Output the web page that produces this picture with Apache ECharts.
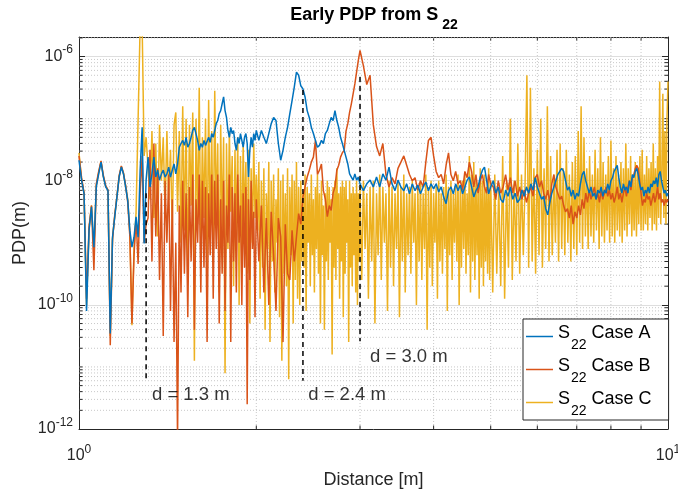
<!DOCTYPE html>
<html>
<head>
<meta charset="utf-8">
<title>Early PDP from S22</title>
<script src="https://cdn.jsdelivr.net/npm/echarts@6.0.0/dist/echarts.min.js"></script>
<style>
  html, body { margin: 0; padding: 0; background: #ffffff; }
  #chart { width: 678px; height: 492px; }
</style>
</head>
<body>
<div id="chart"></div>
<script>
// Distance samples [m] used by Case A and Case B
const distance = [
  1.00,1.01,1.02,1.03,1.04,1.05,1.06,1.07,1.08,1.09,
  1.10,1.11,1.12,1.13,1.14,1.15,1.16,1.17,1.18,1.19,
  1.20,1.21,1.22,1.23,1.24,1.25,1.26,1.27,1.28,1.29,
  1.30,1.31,1.32,1.33,1.34,1.35,1.36,1.37,1.38,1.39,
  1.40,1.41,1.42,1.43,1.44,1.45,1.46,1.47,1.48,1.49,
  1.50,1.51,1.52,1.53,1.54,1.55,1.56,1.57,1.58,1.59,
  1.60,1.61,1.62,1.63,1.64,1.65,1.66,1.67,1.68,1.69,
  1.70,1.71,1.72,1.73,1.74,1.75,1.76,1.77,1.78,1.79,
  1.80,1.81,1.82,1.83,1.84,1.85,1.86,1.87,1.88,1.89,
  1.90,1.91,1.92,1.93,1.94,1.95,1.96,1.97,1.98,1.99,
  2.00,2.02,2.04,2.06,2.08,2.10,2.12,2.14,2.16,2.18,
  2.20,2.22,2.24,2.26,2.28,2.30,2.32,2.34,2.36,2.38,
  2.40,2.42,2.44,2.46,2.48,2.50,2.52,2.54,2.56,2.58,
  2.60,2.62,2.64,2.66,2.68,2.70,2.72,2.74,2.76,2.78,
  2.80,2.82,2.84,2.86,2.88,2.90,2.92,2.94,2.96,2.98,
  3.00,3.04,3.08,3.12,3.16,3.20,3.24,3.28,3.32,3.36,
  3.40,3.44,3.48,3.52,3.56,3.60,3.64,3.68,3.72,3.76,
  3.80,3.84,3.88,3.92,3.96,4.00,4.04,4.08,4.12,4.16,
  4.20,4.24,4.28,4.32,4.36,4.40,4.44,4.48,4.52,4.56,
  4.60,4.64,4.68,4.72,4.76,4.80,4.84,4.88,4.92,4.96,
  5.00,5.05,5.10,5.15,5.20,5.25,5.30,5.35,5.40,5.45,
  5.50,5.55,5.60,5.65,5.70,5.75,5.80,5.85,5.90,5.95,
  6.00,6.05,6.10,6.15,6.20,6.25,6.30,6.35,6.40,6.45,
  6.50,6.55,6.60,6.65,6.70,6.75,6.80,6.85,6.90,6.95,
  7.00,7.05,7.10,7.15,7.20,7.25,7.30,7.35,7.40,7.45,
  7.50,7.55,7.60,7.65,7.70,7.75,7.80,7.85,7.90,7.95,
  8.00,8.05,8.10,8.15,8.20,8.25,8.30,8.35,8.40,8.45,
  8.50,8.55,8.60,8.65,8.70,8.75,8.80,8.85,8.90,8.95,
  9.00,9.05,9.10,9.15,9.20,9.25,9.30,9.35,9.40,9.45,
  9.50,9.55,9.60,9.65,9.70,9.75,9.80,9.85,9.90,9.95,
  10.00
];

// Case C is sampled more finely beyond 2 m
const distanceC = distance.slice(0, 101).concat([
  2.01,2.02,2.03,2.04,2.05,2.06,2.07,2.08,2.09,2.10,
  2.11,2.12,2.13,2.14,2.15,2.16,2.17,2.18,2.19,2.20,
  2.21,2.22,2.23,2.24,2.25,2.26,2.27,2.28,2.29,2.30,
  2.31,2.32,2.33,2.34,2.35,2.36,2.37,2.38,2.39,2.40,
  2.41,2.42,2.43,2.44,2.45,2.46,2.47,2.48,2.49,2.50,
  2.51,2.52,2.53,2.54,2.55,2.56,2.57,2.58,2.59,2.60,
  2.61,2.62,2.63,2.64,2.65,2.66,2.67,2.68,2.69,2.70,
  2.71,2.72,2.73,2.74,2.75,2.76,2.77,2.78,2.79,2.80,
  2.81,2.82,2.83,2.84,2.85,2.86,2.87,2.88,2.89,2.90,
  2.91,2.92,2.93,2.94,2.95,2.96,2.97,2.98,2.99,3.00,
  3.02,3.04,3.06,3.08,3.10,3.12,3.14,3.16,3.18,3.20,
  3.22,3.24,3.26,3.28,3.30,3.32,3.34,3.36,3.38,3.40,
  3.42,3.44,3.46,3.48,3.50,3.52,3.54,3.56,3.58,3.60,
  3.62,3.64,3.66,3.68,3.70,3.72,3.74,3.76,3.78,3.80,
  3.82,3.84,3.86,3.88,3.90,3.92,3.94,3.96,3.98,4.00,
  4.02,4.04,4.06,4.08,4.10,4.12,4.14,4.16,4.18,4.20,
  4.22,4.24,4.26,4.28,4.30,4.32,4.34,4.36,4.38,4.40,
  4.42,4.44,4.46,4.48,4.50,4.52,4.54,4.56,4.58,4.60,
  4.62,4.64,4.66,4.68,4.70,4.72,4.74,4.76,4.78,4.80,
  4.82,4.84,4.86,4.88,4.90,4.92,4.94,4.96,4.98,5.00,
  5.04,5.08,5.12,5.16,5.20,5.24,5.28,5.32,5.36,5.40,
  5.44,5.48,5.52,5.56,5.60,5.64,5.68,5.72,5.76,5.80,
  5.84,5.88,5.92,5.96,6.00,6.04,6.08,6.12,6.16,6.20,
  6.24,6.28,6.32,6.36,6.40,6.44,6.48,6.52,6.56,6.60,
  6.64,6.68,6.72,6.76,6.80,6.84,6.88,6.92,6.96,7.00,
  7.04,7.08,7.12,7.16,7.20,7.24,7.28,7.32,7.36,7.40,
  7.44,7.48,7.52,7.56,7.60,7.64,7.68,7.72,7.76,7.80,
  7.84,7.88,7.92,7.96,8.00,8.04,8.08,8.12,8.16,8.20,
  8.24,8.28,8.32,8.36,8.40,8.44,8.48,8.52,8.56,8.60,
  8.64,8.68,8.72,8.76,8.80,8.84,8.88,8.92,8.96,9.00,
  9.04,9.08,9.12,9.16,9.20,9.24,9.28,9.32,9.36,9.40,
  9.44,9.48,9.52,9.56,9.60,9.64,9.68,9.72,9.76,9.80,
  9.84,9.88,9.92,9.96,10.00
]);

// PDP of each case, stored as log10(PDP) for every distance sample
const pdpLog10CaseA = [
  -7.67,-7.99,-8.21,-10.1,-8.8,-8.42,-9.07,-8.1,-7.89,-7.7,
  -7.94,-8.1,-8.16,-10.46,-8.91,-8.58,-8.26,-7.94,-7.78,-7.89,
  -8.1,-8.32,-8.8,-9.07,-8.91,-8.58,-8.91,-7.83,-7.14,-9.01,
  -7.99,-7.62,-8.1,-7.89,-7.62,-7.94,-7.83,-7.99,-7.89,-7.83,
  -7.94,-7.89,-7.78,-7.94,-7.83,-7.73,-7.89,-7.73,-7.46,-7.4,
  -7.35,-7.43,-7.3,-7.46,-7.4,-7.3,-7.19,-7.14,-7.14,-7.35,
  -7.51,-7.4,-7.46,-7.35,-7.43,-7.4,-7.3,-7.38,-7.24,-7.3,
  -7.19,-7.08,-7.03,-6.92,-6.87,-6.76,-6.65,-6.87,-6.98,-7.19,
  -7.3,-7.14,-7.24,-7.19,-7.4,-7.51,-7.3,-7.4,-7.24,-7.35,
  -7.46,-7.3,-7.24,-7.4,-7.94,-7.51,-7.3,-7.46,-7.24,-7.35,
  -7.19,-7.35,-7.19,-7.3,-7.4,-7.24,-7.08,-6.98,-7.03,-7.4,
  -7.67,-7.51,-7.3,-7.14,-6.92,-6.71,-6.49,-6.25,-6.3,-6.47,
  -6.52,-6.65,-6.87,-6.98,-7.14,-7.24,-7.35,-7.46,-7.43,-7.35,
  -7.4,-7.24,-7.19,-7.08,-6.98,-7.03,-6.87,-7.03,-7.14,-7.3,
  -7.4,-7.51,-7.62,-7.73,-7.89,-7.94,-7.99,-7.89,-7.99,-7.94,
  -8.05,-8.16,-8.05,-7.99,-8.1,-7.94,-8.1,-7.89,-7.99,-7.78,
  -8.05,-8.16,-7.99,-8.1,-8.16,-8.05,-8.21,-8.05,-8.16,-8.07,
  -8.21,-8.1,-8.02,-8.16,-8.05,-8.13,-8.05,-8.18,-8.1,-8.26,
  -8.37,-8.16,-8.1,-8.21,-8.05,-8.16,-8.07,-8.21,-8.1,-7.99,
  -7.94,-8.1,-8.26,-8.16,-8.1,-7.94,-7.83,-7.78,-7.99,-8.21,
  -8.1,-8.0,-8.2,-8.1,-8.3,-8.35,-8.15,-8.25,-8.1,-8.3,
  -8.2,-8.35,-8.3,-8.15,-8.25,-8.1,-8.2,-8.05,-8.15,-7.95,
  -8.1,-8.2,-8.3,-8.25,-8.45,-8.55,-8.35,-8.2,-8.1,-8.0,
  -7.9,-7.85,-7.8,-7.85,-8.0,-8.15,-8.1,-8.25,-8.15,-8.3,
  -8.2,-8.25,-8.05,-7.9,-7.85,-8.0,-8.1,-8.2,-8.1,-8.25,
  -8.2,-8.3,-8.15,-8.2,-8.1,-8.25,-8.15,-8.2,-8.05,-8.15,
  -8.0,-7.95,-7.85,-7.8,-7.75,-7.95,-8.1,-8.2,-8.05,-8.15,
  -8.1,-8.2,-8.0,-8.1,-7.9,-7.95,-7.85,-7.8,-7.9,-8.05,
  -8.15,-8.1,-8.25,-8.15,-8.2,-8.1,-8.2,-8.05,-8.1,-8.0,
  -8.05,-7.95,-8.1,-7.9,-7.85,-8.0,-8.1,-8.2,-8.15,-8.25,
  -8.2
];
const pdpLog10CaseB = [
  -7.6,-7.95,-8.2,-9.9,-8.75,-8.4,-9.44,-8.05,-7.85,-7.68,
  -7.92,-8.08,-8.15,-10.65,-8.95,-8.55,-8.25,-7.92,-7.76,-7.88,
  -8.08,-8.35,-8.9,-10.3,-9.2,-8.6,-9.34,-8.2,-7.6,-9.0,
  -8.7,-8.6,-7.5,-9.3,-7.4,-8.9,-7.8,-9.6,-8.2,-10.5,
  -8.0,-9.0,-7.9,-10.1,-8.3,-10.6,-9.0,-12.2,-8.4,-9.8,
  -8.0,-9.5,-8.2,-10.2,-8.1,-9.3,-7.9,-10.4,-8.3,-9.0,
  -7.9,-9.8,-8.0,-9.4,-8.1,-10.6,-8.2,-9.2,-7.9,-9.9,
  -8.0,-9.1,-7.9,-10.3,-8.3,-9.5,-8.0,-10.1,-8.4,-9.0,
  -7.9,-10.6,-8.1,-9.3,-8.2,-9.8,-7.9,-9.0,-8.4,-10.0,
  -8.2,-9.4,-8.1,-11.6,-8.3,-9.6,-8.0,-9.1,-8.5,-10.2,
  -8.3,-9.3,-8.4,-9.8,-8.6,-10.0,-8.5,-9.2,-10.1,-8.6,
  -8.9,-10.6,-8.7,-9.5,-9.6,-8.8,-9.3,-8.9,-8.53,-8.7,
  -8.26,-8.1,-7.94,-7.83,-7.7,-7.62,-7.35,-7.9,-7.83,-7.73,
  -8.16,-8.3,-8.58,-8.4,-8.48,-8.2,-8.1,-7.83,-7.75,-7.62,
  -7.55,-7.51,-7.2,-7.08,-6.9,-6.76,-6.6,-6.44,-6.25,-6.06,
  -5.9,-6.15,-6.45,-6.3,-7.1,-7.45,-7.6,-7.4,-7.9,-8.1,
  -7.95,-8.05,-7.8,-7.7,-7.6,-7.75,-7.9,-8.0,-7.95,-8.15,
  -8.0,-8.1,-7.7,-7.35,-7.3,-7.6,-7.85,-7.95,-7.9,-8.05,
  -7.75,-7.55,-7.9,-8.0,-7.85,-8.05,-8.0,-8.15,-7.85,-7.95,
  -7.7,-7.85,-8.1,-7.9,-8.2,-8.0,-7.9,-8.1,-8.2,-7.9,
  -8.05,-8.1,-8.3,-8.0,-8.2,-8.1,-7.9,-8.15,-7.95,-8.2,
  -8.0,-8.25,-8.1,-8.3,-8.15,-8.35,-8.2,-8.1,-8.25,-7.95,
  -7.9,-8.1,-8.0,-8.2,-8.3,-8.15,-8.35,-8.05,-7.9,-8.1,
  -8.2,-8.3,-8.25,-8.4,-8.5,-8.45,-8.6,-8.4,-8.7,-8.5,
  -8.6,-8.4,-8.55,-8.3,-8.45,-8.2,-8.35,-8.15,-8.3,-8.2,
  -8.1,-8.3,-8.2,-8.35,-8.15,-8.3,-8.2,-8.1,-8.25,-8.15,
  -8.3,-8.2,-8.35,-8.25,-8.1,-8.3,-8.2,-8.35,-8.2,-8.1,
  -8.25,-8.1,-8.0,-8.15,-7.95,-7.9,-7.8,-7.75,-7.8,-8.0,
  -8.2,-8.4,-8.3,-8.35,-8.2,-8.3,-8.25,-8.4,-8.3,-8.2,
  -8.35,-8.25,-8.1,-8.3,-8.2,-8.35,-8.3,-8.4,-8.3,-8.35,
  -8.3
];
const pdpLog10CaseC = [
  -7.55,-7.97,-8.2,-10.0,-8.78,-8.4,-9.1,-8.08,-7.87,-7.69,
  -7.93,-8.09,-8.15,-10.5,-8.92,-8.57,-8.25,-7.93,-7.77,-7.88,
  -8.09,-8.3,-8.85,-10.33,-9.1,-8.5,-7.0,-5.5,-5.5,-7.6,
  -7.3,-7.3,-8.3,-7.2,-8.6,-7.4,-8.9,-7.1,-8.0,-7.3,
  -8.5,-7.2,-8.3,-7.5,-8.8,-7.1,-6.9,-8.5,-7.2,-9.0,
  -6.8,-8.8,-7.0,-9.6,-7.1,-8.4,-6.9,-10.9,-7.0,-8.7,
  -6.5,-9.2,-7.3,-8.6,-7.0,-9.4,-6.7,-8.9,-7.2,-9.3,
  -6.55,-8.6,-7.4,-9.8,-7.1,-8.8,-7.3,-11.1,-7.4,-9.1,
  -7.2,-8.5,-7.6,-9.7,-7.5,-8.9,-7.3,-10.0,-7.6,-9.2,
  -7.4,-8.7,-7.7,-9.5,-7.5,-10.3,-7.8,-9.0,-7.4,-8.6,
  -7.9,
  -8.8,-7.7,-9.9,-8.0,-9.4,-7.8,-10.4,-8.2,-9.1,-7.7,
  -10.6,-8.0,-9.3,-7.9,-9.8,-8.3,-9.0,-7.8,-10.2,-8.0,
  -10.9,-7.9,-9.5,-8.2,-9.7,-7.8,-11.2,-8.1,-9.2,-7.9,
  -10.3,-8.0,-9.6,-7.7,-9.9,-8.1,-10.0,-8.0,-9.3,-8.2,
  -9.4,-7.9,-10.1,-8.1,-9.0,-8.2,-9.7,-7.9,-9.2,-8.3,
  -9.8,-8.1,-9.1,-7.9,-9.5,-8.2,-10.3,-8.0,-9.2,-8.4,
  -10.4,-8.2,-9.3,-8.0,-9.6,-8.1,-9.0,-8.3,-10.8,-8.1,
  -9.4,-8.0,-9.6,-7.8,-9.1,-8.2,-9.9,-8.1,-9.3,-8.0,
  -10.2,-8.1,-9.5,-8.0,-9.0,-8.3,-10.6,-8.0,-9.4,-8.2,
  -9.7,-8.1,-9.2,-8.2,-9.8,-8.0,-10.0,-8.2,-9.3,-8.1,
  -9.6,-8.0,-9.1,-8.2,-9.9,-8.1,-9.3,-8.0,-10.3,-8.2,
  -9.2,-7.9,-9.6,-8.1,-9.0,-8.2,-10.1,-8.0,-9.4,-8.1,
  -9.7,-8.2,-9.1,-8.0,-10.2,-8.1,-9.3,-7.9,-9.8,-8.2,
  -9.2,-8.1,-9.5,-8.0,-9.0,-8.2,-10.0,-8.1,-9.3,-8.0,
  -9.6,-8.2,-9.1,-7.9,-10.4,-8.1,-9.4,-8.0,-9.7,-8.2,
  -9.0,-8.1,-9.9,-8.0,-9.3,-8.2,-9.5,-8.1,-9.1,-7.9,
  -10.1,-8.1,-9.2,-8.0,-9.6,-8.2,-9.0,-8.1,-9.3,-7.9,
  -10.0,-8.1,-9.4,-8.0,-9.1,-7.9,-9.5,-8.2,-9.2,-7.6,
  -9.8,-7.9,-9.3,-7.7,-9.6,-8.0,-9.2,-8.1,-9.9,-7.8,
  -9.4,-8.0,-9.7,-7.9,-9.3,-8.1,-9.5,-7.8,-9.6,-8.0,
  -9.8,-7.9,-9.5,-8.1,-9.7,-7.6,-9.9,-8.0,-9.4,-7.0,
  -9.6,-8.0,-9.3,-7.4,-9.5,-7.9,-9.2,-8.0,-6.3,-9.4,
  -6.5,-9.3,-7.8,-9.5,-7.5,-9.2,-7.0,-9.4,-7.8,-9.1,
  -6.8,-9.3,-7.6,-9.2,-7.9,-9.0,-7.5,-9.3,-7.4,-9.1,
  -7.8,-9.2,-7.5,-9.0,-7.9,-9.3,-7.7,-9.1,-7.6,-9.2,
  -7.2,-9.0,-6.8,-9.1,-7.3,-8.9,-7.8,-9.1,-7.6,-8.9,
  -7.9,-9.0,-7.5,-8.8,-7.8,-9.1,-7.3,-8.9,-7.7,-9.0,
  -7.9,-8.8,-7.6,-9.0,-7.35,-8.9,-7.8,-9.0,-7.6,-8.8,
  -7.9,-8.9,-7.7,-9.0,-7.8,-8.8,-7.4,-8.9,-7.8,-8.7,
  -7.6,-8.9,-7.9,-8.8,-7.7,-8.9,-7.8,-8.7,-7.6,-8.8,
  -7.5,-8.8,-7.9,-8.7,-7.6,-8.8,-7.8,-8.6,-7.7,-8.8,
  -7.4,-8.7,-7.8,-8.8,-7.6,-8.6,-6.4,-8.7,-7.9,-6.6,
  -8.6,-7.2,-8.7,-7.0,-6.4
];

// Dashed distance markers and their captions
const markerDistance = [1.3, 2.4, 3.0];
const markerTop = [6.3e-9, 2.9e-7, 4.7e-7];
const markerBottom = [6e-12, 6e-12, 2.6e-11];
const markerText = ['d = 1.3 m', 'd = 2.4 m', 'd = 3.0 m'];
const markerTextX = [1.33, 2.45, 3.12];
const markerTextY = [3.5e-12, 3.5e-12, 1.46e-11];

// Labelled ticks
const xTicks = [1, 10];
const yTicks = [1e-12, 1e-10, 1e-8, 1e-6];

const X_MIN = 1, X_MAX = 10, Y_MIN = 1e-12, Y_MAX = 2.07e-6;
const FONT = "'Liberation Sans', Arial, Helvetica, sans-serif";
const AXIS_COLOR = '#262626';

const caseDefs = [
  { key: 'C', x: distanceC, values: pdpLog10CaseC, color: '#EDB120' },
  { key: 'B', x: distance, values: pdpLog10CaseB, color: '#D95319' },
  { key: 'A', x: distance, values: pdpLog10CaseA, color: '#0072BD' }
];

// minor (unlabelled) grid positions, log style
const minorX = [2, 3, 4, 5, 6, 7, 8, 9];
const minorY = [];
for (let e = -12; e <= -6; e++) {
  for (let k = (e % 2 === 0 ? 2 : 1); k <= 9; k++) {
    const v = k * Math.pow(10, e);
    if (v < Y_MAX) minorY.push(v);
  }
}

function isTick(v, list) {
  return list.some(t => Math.abs(Math.log10(v) - Math.log10(t)) < 1e-6);
}
function powerLabel(list) {
  return function (v) {
    if (!isTick(v, list)) return '';
    const e = Math.round(Math.log10(v));
    return '{b|10}{e|' + e + '}';
  };
}
// base "10" and raised exponent
const tickRich = {
  b: { fontFamily: FONT, fontSize: 16, lineHeight: 18, color: AXIS_COLOR },
  e: { fontFamily: FONT, fontSize: 12, lineHeight: 12, padding: [0, 0, 13, 0], color: AXIS_COLOR }
};

const tickStyle = { stroke: AXIS_COLOR, lineWidth: 1 };
const dotStyle = { stroke: '#c8c8c8', lineWidth: 1, lineDash: [1, 2] };

const series = [];

// minor grid lines and minor tick marks
series.push({
  type: 'custom',
  silent: true,
  z: 1,
  animation: false,
  data: minorX.map(v => [v, 1e-9]).concat(minorY.map(v => [1.5, v])),
  renderItem: function (params, api) {
    const cs = params.coordSys;
    const left = cs.x, right = cs.x + cs.width, top = cs.y, bottom = cs.y + cs.height;
    const p = api.coord([api.value(0), api.value(1)]);
    if (params.dataIndex < minorX.length) {
      const x = p[0];
      return { type: 'group', children: [
        { type: 'line', shape: { x1: x, y1: top, x2: x, y2: bottom }, style: dotStyle },
        { type: 'line', shape: { x1: x, y1: bottom, x2: x, y2: bottom - 3.5 }, style: tickStyle },
        { type: 'line', shape: { x1: x, y1: top, x2: x, y2: top + 3.5 }, style: tickStyle }
      ] };
    }
    const y = p[1];
    return { type: 'group', children: [
      { type: 'line', shape: { x1: left, y1: y, x2: right, y2: y }, style: dotStyle },
      { type: 'line', shape: { x1: left, y1: y, x2: left + 3.5, y2: y }, style: tickStyle },
      { type: 'line', shape: { x1: right, y1: y, x2: right - 3.5, y2: y }, style: tickStyle }
    ] };
  }
});

// PDP curves (Case C underneath, Case A on top)
caseDefs.forEach(c => {
  series.push({
    name: 'Case ' + c.key,
    type: 'line',
    data: c.x.map((d, i) => [d, Math.pow(10, c.values[i])]),
    showSymbol: false,
    symbol: 'none',
    silent: true,
    animation: false,
    clip: true,
    z: 2,
    color: c.color,
    itemStyle: { color: c.color },
    lineStyle: { color: c.color, width: 1.5 }
  });
});

// dashed markers
markerDistance.forEach((d, i) => {
  series.push({
    type: 'line',
    data: [[d, markerTop[i]], [d, markerBottom[i]]],
    showSymbol: false,
    symbol: 'none',
    silent: true,
    animation: false,
    z: 3,
    lineStyle: { color: '#000000', width: 1.5, type: [5, 4] }
  });
});

// marker captions
series.push({
  type: 'scatter',
  data: markerTextX.map((x, i) => [x, markerTextY[i]]),
  symbolSize: 0,
  silent: true,
  animation: false,
  z: 4,
  itemStyle: { color: 'transparent' },
  label: {
    show: true,
    position: 'right',
    distance: 0,
    formatter: p => markerText[p.dataIndex],
    fontFamily: FONT,
    fontSize: 18.5,
    color: '#000000'
  }
});

const baseAxis = {
  type: 'log',
  logBase: 10,
  axisLine: { show: true, lineStyle: { color: AXIS_COLOR, width: 1 } },
  axisTick: { show: true, inside: true, length: 6, lineStyle: { color: AXIS_COLOR, width: 1 } },
  minorTick: { show: false },
  minorSplitLine: { show: false }
};

const option = {
  animation: false,
  backgroundColor: '#ffffff',
  title: {
    text: '{t|Early PDP from S}{s|22}',
    left: 374,
    top: 5,
    padding: 0,
    textAlign: 'center',
    textStyle: {
      rich: {
        t: { fontFamily: FONT, fontSize: 18, fontWeight: 'bold', lineHeight: 20, color: '#000000' },
        s: { fontFamily: FONT, fontSize: 14, fontWeight: 'bold', lineHeight: 14, padding: [20, 0, 0, 4], color: '#000000' }
      }
    }
  },
  legend: {
    data: ['Case A', 'Case B', 'Case C'],
    orient: 'vertical',
    left: 523,
    top: 319,
    padding: [2, 17, 2, 3],
    itemGap: 2,
    itemWidth: 27,
    itemHeight: 1.5,
    icon: 'rect',
    selectedMode: false,
    backgroundColor: '#ffffff',
    borderColor: AXIS_COLOR,
    borderWidth: 1,
    borderRadius: 0,
    formatter: name => '{b|S}{sub|22}{b| ' + name + '}',
    textStyle: {
      rich: {
        b: { fontFamily: FONT, fontSize: 18, lineHeight: 20, padding: [0, 0, 6, 0], color: '#000000' },
        sub: { fontFamily: FONT, fontSize: 14, lineHeight: 14, padding: [17, 0, 0, 1], color: '#000000' }
      }
    }
  },
  grid: {
    left: 79,
    top: 37,
    width: 589,
    height: 392,
    outerBoundsMode: 'none',
    containLabel: false,
    show: false
  },
  xAxis: [
    Object.assign({}, baseAxis, {
      position: 'bottom',
      min: X_MIN, max: X_MAX, interval: 1,
      name: 'Distance [m]',
      nameLocation: 'middle',
      nameGap: 42,
      nameMoveOverlap: false,
      nameTextStyle: { fontFamily: FONT, fontSize: 18, color: AXIS_COLOR },
      axisLabel: {
        show: true, margin: 18, showMinLabel: true, showMaxLabel: true,
        formatter: powerLabel(xTicks), rich: tickRich
      },
      splitLine: { show: true, lineStyle: { color: '#dedede', width: 1 } }
    }),
    Object.assign({}, baseAxis, {
      position: 'top',
      min: X_MIN, max: X_MAX, interval: 1,
      axisLabel: { show: false },
      splitLine: { show: false }
    })
  ],
  yAxis: [
    Object.assign({}, baseAxis, {
      position: 'left',
      min: Y_MIN, max: Y_MAX, interval: 2,
      name: 'PDP(m)',
      nameLocation: 'middle',
      nameGap: 50,
      nameRotate: 90,
      nameMoveOverlap: false,
      nameTextStyle: { fontFamily: FONT, fontSize: 18, color: AXIS_COLOR },
      axisLabel: {
        show: true, margin: 6, showMinLabel: true, showMaxLabel: true,
        formatter: powerLabel(yTicks), rich: tickRich
      },
      splitLine: { show: true, lineStyle: { color: '#dedede', width: 1 } }
    }),
    Object.assign({}, baseAxis, {
      position: 'right',
      min: Y_MIN, max: Y_MAX, interval: 2,
      axisLabel: { show: false },
      splitLine: { show: false }
    })
  ],
  series: series
};

const chart = echarts.init(document.getElementById('chart'), null, { renderer: 'canvas' });
chart.setOption(option);
</script>
</body>
</html>
